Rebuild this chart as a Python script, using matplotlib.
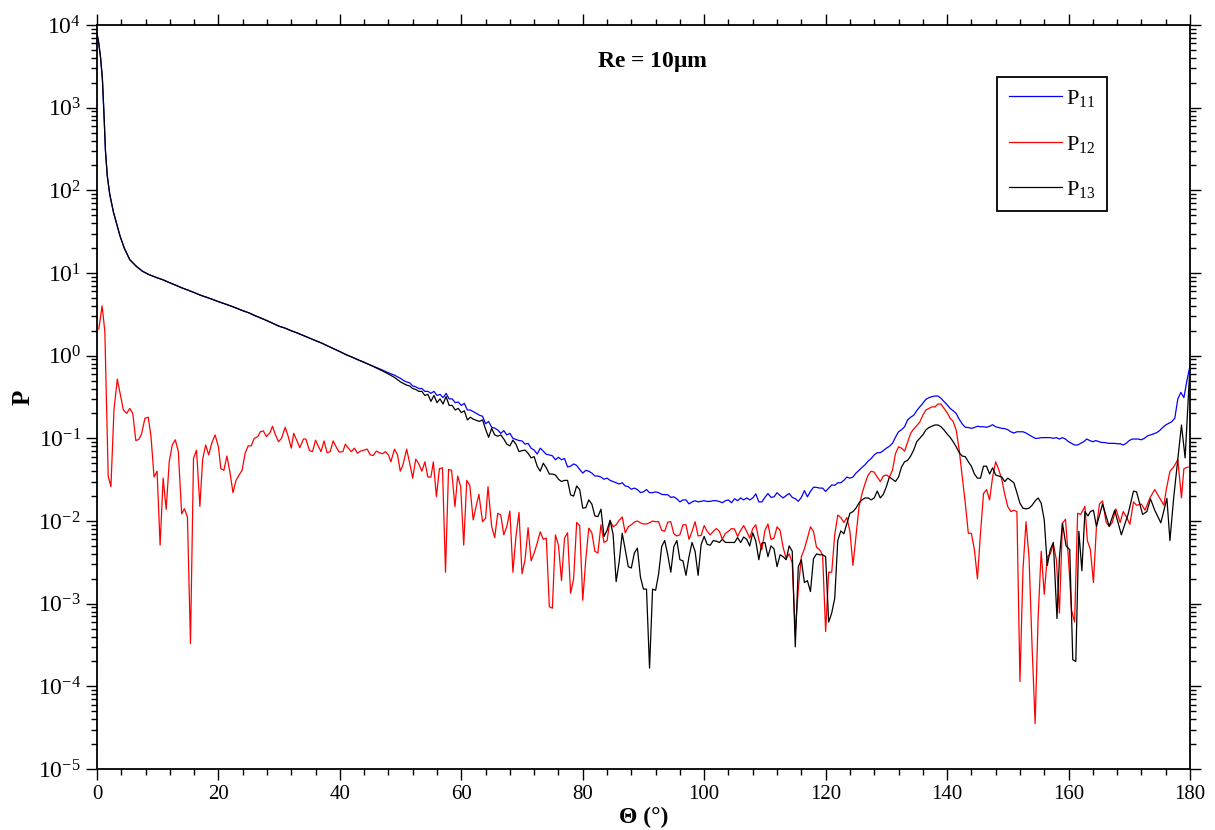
import numpy as np
import matplotlib
matplotlib.use('Agg')
import matplotlib.pyplot as plt
from matplotlib.ticker import MultipleLocator, LogLocator, NullFormatter, FixedLocator

plt.rcParams['font.family'] = ['Liberation Serif', 'DejaVu Serif']
plt.rcParams['mathtext.fontset'] = 'custom'
plt.rcParams['mathtext.rm'] = 'Liberation Serif'
plt.rcParams['mathtext.it'] = 'Liberation Serif:italic'
plt.rcParams['mathtext.bf'] = 'Liberation Serif:bold'

# ---- P11 (blue) ----
th11 = [0, 0.3, 0.6, 0.9, 1.2, 1.4, 1.7, 2.1, 2.7, 3.3, 3.8, 4.5, 5.4, 6.5, 7.5, 8.5,
        10, 11, 12, 13, 14, 15, 16, 17, 18, 19, 20, 21, 22, 23, 24, 25, 26, 27, 28, 29,
        30, 31, 32, 33, 34, 35, 36, 37, 38, 39, 40, 41, 42, 43, 44, 45, 46, 47, 48, 49, 50,
        50.5, 51, 51.5, 52, 52.5, 53, 53.5, 54, 54.5, 55, 55.5, 56, 56.5, 57, 57.5, 58, 58.5,
        59, 59.5, 60, 60.5, 61, 61.5, 62, 62.5, 63, 63.5, 64, 64.5, 65, 65.5, 66, 66.5, 67,
        67.5, 68, 68.5, 69, 69.5, 70, 70.5, 71, 71.5, 72, 72.5, 73, 73.5, 74, 74.5, 75, 75.5,
        76, 76.5, 77, 77.5, 78, 78.5, 79, 79.5, 80, 80.5, 81, 81.5, 82, 82.5, 83, 83.5, 84,
        84.5, 85, 85.5, 86, 86.5, 87, 87.5, 88, 88.5, 89, 89.5, 90, 90.5, 91, 91.5, 92, 92.5,
        93, 93.5, 94, 94.5, 95, 95.5, 96, 96.5, 97, 97.5, 98, 98.5, 99, 99.5, 100, 100.5, 101,
        101.5, 102, 102.5, 103, 103.5, 104, 104.5, 105, 105.5, 106, 106.5, 107, 107.5, 108,
        108.5, 109, 109.5, 110, 110.5, 111, 111.5, 112, 112.5, 113, 113.5, 114, 114.5, 115,
        115.5, 116, 116.5, 117, 117.5, 118, 118.5, 119, 119.5, 120, 120.5, 121, 121.5, 122,
        122.5, 123, 123.5, 124, 124.5, 125, 125.5, 126, 126.5, 127, 127.5, 128, 128.5, 129,
        129.5, 130, 130.5, 131, 131.5, 132, 132.5, 133, 133.5, 134, 134.5, 135, 135.5, 136,
        136.5, 137, 137.5, 138, 138.5, 139, 139.5, 140, 140.5, 141, 141.5, 142, 142.5, 143,
        143.5, 144, 144.5, 145, 145.5, 146, 146.5, 147, 147.5, 148, 148.5, 149, 149.5, 150,
        150.5, 151, 151.5, 152, 152.5, 153, 153.5, 154, 154.5, 155, 155.5, 156, 156.5, 157,
        157.5, 158, 158.5, 159, 159.5, 160, 160.5, 161, 161.5, 162, 162.5, 163, 163.5, 164,
        164.5, 165, 165.5, 166, 166.5, 167, 167.5, 168, 168.5, 169, 169.5, 170, 170.5, 171,
        171.5, 172, 172.5, 173, 173.5, 174, 174.5, 175, 175.5, 176, 176.5, 177, 177.5, 178,
        178.5, 179, 179.5, 180]
p11 = [8000, 6000, 4000, 2200, 700, 300, 150, 90, 55, 38, 28, 20, 14.5, 12, 10.5, 9.6,
       8.7, 8.2, 7.6, 7.1, 6.6, 6.2, 5.8, 5.4, 5.1, 4.8, 4.5, 4.25, 4.0, 3.75, 3.5, 3.3, 3.05,
       2.85, 2.65, 2.45, 2.27, 2.15, 2.0, 1.88, 1.75, 1.63, 1.52, 1.42, 1.31, 1.21, 1.12, 1.03,
       0.96, 0.89, 0.83, 0.77, 0.72, 0.67, 0.62, 0.58, 0.53,
       0.50, 0.48, 0.47, 0.43, 0.42, 0.40, 0.40, 0.37, 0.37, 0.35, 0.37, 0.33, 0.34, 0.31,
       0.35, 0.30, 0.30, 0.27, 0.275, 0.25, 0.265, 0.22, 0.22, 0.21, 0.20, 0.19, 0.185, 0.15,
       0.16, 0.136, 0.133, 0.126, 0.115, 0.124, 0.11, 0.115, 0.10, 0.097, 0.094, 0.093, 0.085,
       0.087, 0.076, 0.072, 0.0645, 0.076, 0.07, 0.064, 0.063, 0.0615, 0.055, 0.059, 0.055,
       0.057, 0.045, 0.046, 0.049, 0.047, 0.042, 0.038, 0.041, 0.040, 0.038, 0.035, 0.035,
       0.034, 0.032, 0.033, 0.031, 0.030, 0.029, 0.028, 0.029, 0.0265, 0.026, 0.0242, 0.025,
       0.024, 0.0221, 0.0225, 0.024, 0.022, 0.022, 0.0225, 0.022, 0.021, 0.0208, 0.0208,
       0.0193, 0.0196, 0.0185, 0.017, 0.018, 0.018, 0.0161, 0.017, 0.0176, 0.017, 0.0173,
       0.0176, 0.0172, 0.0173, 0.0176, 0.0176, 0.0172, 0.0166, 0.0176, 0.018, 0.0166, 0.0186,
       0.0176, 0.019, 0.018, 0.019, 0.018, 0.019, 0.0213, 0.017, 0.017, 0.0193, 0.0215, 0.0193,
       0.0196, 0.022, 0.0203, 0.019, 0.0203, 0.0215, 0.0193, 0.0186, 0.0173, 0.0193, 0.0233,
       0.0196, 0.0228, 0.0256, 0.0255, 0.025, 0.025, 0.0228, 0.025, 0.0273, 0.027, 0.029,
       0.029, 0.031, 0.034, 0.033, 0.034, 0.038, 0.041, 0.0445, 0.048, 0.053, 0.057, 0.063,
       0.067, 0.067, 0.071, 0.076, 0.08, 0.087, 0.103, 0.12, 0.127, 0.138, 0.167, 0.18, 0.19,
       0.216, 0.24, 0.265, 0.296, 0.31, 0.319, 0.325, 0.325, 0.305, 0.278, 0.255, 0.23, 0.216,
       0.2, 0.17, 0.149, 0.136, 0.135, 0.132, 0.135, 0.14, 0.138, 0.138, 0.136, 0.14, 0.146,
       0.138, 0.135, 0.132, 0.131, 0.127, 0.12, 0.116, 0.12, 0.12, 0.12, 0.116, 0.11, 0.105,
       0.1, 0.1, 0.102, 0.102, 0.102, 0.102, 0.1, 0.102, 0.098, 0.102, 0.098, 0.091, 0.087,
       0.083, 0.083, 0.087, 0.091, 0.098, 0.094, 0.091, 0.094, 0.091, 0.089, 0.089, 0.087,
       0.087, 0.087, 0.086, 0.086, 0.083, 0.087, 0.094, 0.098, 0.098, 0.098, 0.096, 0.1,
       0.107, 0.11, 0.113, 0.117, 0.124, 0.135, 0.145, 0.152, 0.159, 0.175, 0.3, 0.36, 0.31,
       0.5, 0.75]

# ---- P12 (red) ----
th12 = [0.3, 0.85, 1.3, 1.85, 2.3, 2.8, 3.35, 4.35, 4.9, 5.4, 5.9, 6.4, 6.9, 7.35, 7.9,
        8.45, 8.9, 9.4, 9.9, 10.4, 10.9, 11.4, 11.9, 12.4, 12.9, 13.4, 13.95, 14.4, 14.9,
        15.4, 15.9, 16.4, 16.95, 17.4, 17.9, 18.4, 18.9, 19.45, 20.0, 20.4, 20.9, 21.4, 21.9,
        22.4, 22.9, 23.4, 23.9, 24.4, 24.9, 25.4, 25.9, 26.5, 26.9, 27.4, 27.9, 28.5, 28.9,
        29.4, 29.9, 30.4, 31.0, 31.5, 32.0, 32.4, 33.0, 33.4, 34.0, 34.4, 35.0, 35.5, 36.0,
        36.5, 36.9, 37.4, 37.9, 38.4, 38.9, 39.5, 39.9, 40.5, 40.9, 41.4, 41.9, 42.4, 42.9,
        43.4, 44.0, 44.5, 45.0, 45.5, 46.0, 46.5, 47.0, 47.5, 48.0, 48.4, 49.0, 49.5, 49.95,
        50.4, 51.0, 51.5, 52.0, 52.5, 53.0, 53.5, 54.0, 54.5, 55.0, 55.4, 55.9, 56.4, 56.9,
        57.4, 57.9, 58.4, 58.96, 59.4, 59.9, 60.4, 60.9, 61.4, 61.96, 62.4, 62.9, 63.5, 64.0,
        64.4, 65.0, 65.5, 66.0, 66.5, 67.0, 67.5, 68.0, 68.5, 69.0, 69.5, 70.0, 70.5, 71.0,
        71.5, 72.0, 72.5, 73.0, 73.5, 74.0, 74.5, 75.0, 75.5, 76.0, 76.5, 77.0, 77.5, 78.0,
        78.5, 79.0, 79.5, 80.0, 80.5, 81.0, 81.5, 82.0, 82.5, 83.0, 83.5, 84.0, 84.5, 85.0,
        85.5, 86.0, 86.5, 87.0, 87.5, 88.0, 88.5, 89.0, 89.5, 90.0, 90.5, 91.0, 91.5, 92.0,
        92.5, 93.0, 93.5, 94.0, 94.5, 95.0, 95.5, 96.0, 96.5, 97.0, 97.5, 98.0, 98.5, 99.0,
        99.5, 100.0, 100.5, 101.0, 101.5, 102.0, 102.5, 103.0, 103.5, 104.0, 104.5, 105.0,
        105.5, 106.0, 106.5, 107.0, 107.5, 108.0, 108.5, 109.0, 109.5, 110.0, 110.5, 111.0,
        111.5, 112.0, 112.5, 113.0, 113.5, 114.0, 114.5, 115.0, 115.5, 116.0, 116.5, 117.0,
        117.5, 118.0, 118.5, 119.0, 119.5, 120.0, 120.5, 121.0, 121.5, 122.0, 122.5, 123.0,
        123.5, 124.0, 124.5, 125.0, 125.5, 126.0, 126.5, 127.0, 127.5, 128.0, 128.5, 129.0,
        129.5, 130.0, 130.5, 131.0, 131.5, 132.0, 132.5, 133.0, 133.5, 134.0, 134.5, 135.0,
        135.5, 136.0, 136.5, 137.0, 137.5, 138.0, 138.5, 139.0, 139.5, 140.0, 140.5, 141.0,
        141.5, 142.0, 142.5, 143.0, 143.5, 144.0, 144.5, 145.0, 145.5, 146.0, 146.5, 147.0,
        147.5, 148.0, 148.5, 149.0, 149.5, 150.0, 150.5, 151.0, 151.5, 152.0, 152.5, 153.0,
        153.5, 154.0, 154.5, 155.0, 155.5, 156.0, 156.5, 157.0, 157.5, 158.0, 158.5, 159.0,
        159.5, 160.0, 160.5, 161.0, 161.5, 162.0, 162.7, 163.1, 163.6, 164.1, 164.6, 165.1,
        165.6, 166.2, 166.7, 167.2, 167.8, 168.5, 169.0, 169.6, 170.1, 170.7, 171.2, 172.0,
        172.6, 173.4, 174.2, 175.0, 175.7, 176.1, 176.7, 177.3, 178.0, 178.6, 179.0, 179.7]
p12 = [2.1, 4.0, 1.95, 0.035, 0.026, 0.22, 0.52, 0.22, 0.20, 0.23, 0.20, 0.094, 0.097,
       0.113, 0.175, 0.18, 0.105, 0.034, 0.040, 0.0051, 0.033, 0.0138, 0.052, 0.083, 0.096,
       0.069, 0.0122, 0.0141, 0.0112, 0.00033, 0.057, 0.072, 0.015, 0.055, 0.083, 0.063,
       0.087, 0.11, 0.079, 0.043, 0.041, 0.061, 0.039, 0.022, 0.031, 0.036, 0.041, 0.066,
       0.081, 0.081, 0.10, 0.105, 0.12, 0.123, 0.105, 0.117, 0.14, 0.11, 0.091, 0.10, 0.136,
       0.105, 0.076, 0.115, 0.091, 0.077, 0.098, 0.098, 0.071, 0.069, 0.095, 0.079, 0.069,
       0.093, 0.067, 0.069, 0.093, 0.076, 0.068, 0.069, 0.085, 0.076, 0.069, 0.076, 0.066,
       0.070, 0.072, 0.074, 0.063, 0.062, 0.070, 0.067, 0.065, 0.069, 0.063, 0.052, 0.074,
       0.063, 0.040, 0.048, 0.074, 0.050, 0.033, 0.056, 0.049, 0.040, 0.052, 0.034, 0.034,
       0.052, 0.0197, 0.043, 0.044, 0.0024, 0.042, 0.041, 0.0149, 0.035, 0.026, 0.0051,
       0.031, 0.027, 0.0103, 0.0146, 0.021, 0.0098, 0.0108, 0.026, 0.0086, 0.0063, 0.0124,
       0.0118, 0.0068, 0.0086, 0.0132, 0.0024, 0.0065, 0.0127, 0.0023, 0.0034, 0.0083,
       0.0033, 0.0041, 0.0054, 0.0074, 0.006, 0.0062, 0.00092, 0.00088, 0.0068, 0.0051,
       0.0019, 0.0062, 0.0072, 0.00134, 0.0020, 0.0096, 0.0088, 0.0011, 0.0034, 0.0082,
       0.0072, 0.0043, 0.0041, 0.0090, 0.0055, 0.0058, 0.0101, 0.0085, 0.0090, 0.0102,
       0.0112, 0.0072, 0.0085, 0.009, 0.0097, 0.01, 0.0095, 0.0092, 0.0092, 0.0095, 0.0100,
       0.0098, 0.0098, 0.0077, 0.0075, 0.0097, 0.0098, 0.0070, 0.0066, 0.0068, 0.009, 0.009,
       0.006, 0.0075, 0.0098, 0.0066, 0.0067, 0.0088, 0.0075, 0.0068, 0.0075, 0.0081,
       0.0075, 0.006, 0.0071, 0.0075, 0.0081, 0.008, 0.0065, 0.0077, 0.0088, 0.0075, 0.0062,
       0.0081, 0.009, 0.0059, 0.0045, 0.0077, 0.0092, 0.006, 0.0062, 0.0085, 0.0077, 0.0048,
       0.0035, 0.004, 0.0031, 0.00044, 0.0015, 0.0037, 0.0046, 0.0062, 0.0085, 0.0075,
       0.0048, 0.0045, 0.0039, 0.00046, 0.0024, 0.0024, 0.0068, 0.0118, 0.011, 0.0096,
       0.011, 0.0075, 0.0029, 0.0065, 0.0149, 0.0215, 0.0285, 0.036, 0.040, 0.039, 0.034,
       0.030, 0.035, 0.036, 0.034, 0.041, 0.065, 0.079, 0.076, 0.07, 0.09, 0.115, 0.13,
       0.142, 0.157, 0.19, 0.22, 0.23, 0.24, 0.24, 0.26, 0.26, 0.23, 0.205, 0.175, 0.16,
       0.126, 0.072, 0.034, 0.0164, 0.0071, 0.0071, 0.0045, 0.0020, 0.0071, 0.0215, 0.024,
       0.018, 0.034, 0.052, 0.042, 0.032, 0.021, 0.0149, 0.013, 0.0135, 0.013, 0.000114,
       0.0026, 0.0098, 0.0036, 0.0003, 0.0000355, 0.0007, 0.0043, 0.0013, 0.0037, 0.004,
       0.0052, 0.0034, 0.00077, 0.0094, 0.0105, 0.0034, 0.00083, 0.0006, 0.0124, 0.012,
       0.015, 0.0058, 0.0045, 0.0018, 0.0086, 0.016, 0.0175, 0.0096, 0.0086, 0.0096, 0.014,
       0.0096, 0.013, 0.011, 0.0091, 0.017, 0.0155, 0.016, 0.0135, 0.019, 0.024, 0.019,
       0.0155, 0.024, 0.040, 0.045, 0.055, 0.019, 0.043, 0.045]

# ---- P13 (black) ----
th13 = [0, 0.3, 0.6, 0.9, 1.2, 1.4, 1.7, 2.1, 2.7, 3.3, 3.8, 4.5, 5.4, 6.5, 7.5, 8.5,
        10, 11, 12, 13, 14, 15, 16, 17, 18, 19, 20, 21, 22, 23, 24, 25, 26, 27, 28, 29,
        30, 31, 32, 33, 34, 35, 36, 37, 38, 39, 40, 41, 42, 43, 44, 45, 46, 47, 48, 49, 50,
        50.5, 51, 51.5, 52, 52.5, 53, 53.5, 54, 54.5, 55, 55.5, 56, 56.5, 57, 57.5, 58, 58.5,
        59, 59.5, 60, 60.5, 61, 61.5, 62, 62.5, 63, 63.5, 64, 64.5, 65, 65.5, 66, 66.5, 67,
        67.5, 68, 68.5, 69, 69.5, 70, 70.5, 71, 71.5, 72, 72.5, 73, 73.5, 74, 74.5, 75, 75.5,
        76, 76.5, 77, 77.5, 78, 78.5, 79, 79.5, 80, 80.5, 81, 81.5, 82, 82.5, 83, 83.5, 84,
        84.5, 85, 85.5, 86, 86.5, 87, 87.5, 88, 88.5, 89, 89.5, 90, 90.5, 91, 91.5, 92, 92.5,
        93, 93.5, 94, 94.5, 95, 95.5, 96, 96.5, 97, 97.5, 98, 98.5, 99, 99.5, 100, 100.5, 101,
        101.5, 102, 102.5, 103, 103.5, 104, 104.5, 105, 105.5, 106, 106.5, 107, 107.5, 108,
        108.5, 109, 109.5, 110, 110.5, 111, 111.5, 112, 112.5, 113, 113.5, 114, 114.5, 115,
        115.5, 116, 116.5, 117, 117.5, 118, 118.5, 119, 119.5, 120, 120.5, 121, 121.5, 122,
        122.5, 123, 123.5, 124, 124.5, 125, 125.5, 126, 126.5, 127, 127.5, 128, 128.5, 129,
        129.5, 130, 130.5, 131, 131.5, 132, 132.5, 133, 133.5, 134, 134.5, 135, 135.5, 136,
        136.5, 137, 137.5, 138, 138.5, 139, 139.5, 140, 140.5, 141, 141.5, 142, 142.5, 143,
        143.5, 144, 144.5, 145, 145.5, 146, 146.5, 147, 147.5, 148, 148.5, 149, 149.5, 150,
        150.5, 151, 151.5, 152, 152.5, 153, 153.5, 154, 154.5, 155, 155.5, 156, 156.5, 157,
        157.5, 158.1, 158.5, 159, 159.6, 160.2, 160.7, 161.2, 161.7, 162.2, 162.7, 163.2,
        163.6, 164.1, 164.6, 165.6, 166.7, 167.6, 168.7, 169.8, 170.7, 171.2, 172.2, 172.9,
        173.5, 174.2, 175.2, 176.2, 176.7, 177.3, 177.9, 178.6, 179.2, 180]
p13 = [8000, 6000, 4000, 2200, 700, 300, 150, 90, 55, 38, 28, 20, 14.5, 12, 10.5, 9.6,
       8.7, 8.2, 7.6, 7.1, 6.6, 6.2, 5.8, 5.4, 5.1, 4.8, 4.5, 4.25, 4.0, 3.75, 3.5, 3.3, 3.05,
       2.85, 2.65, 2.45, 2.27, 2.15, 2.0, 1.88, 1.75, 1.63, 1.52, 1.42, 1.31, 1.21, 1.12, 1.03,
       0.96, 0.89, 0.83, 0.77, 0.71, 0.655, 0.60, 0.545, 0.48,
       0.46, 0.44, 0.43, 0.40, 0.39, 0.37, 0.37, 0.33, 0.34, 0.28, 0.33, 0.27, 0.30, 0.26,
       0.32, 0.25, 0.25, 0.22, 0.23, 0.205, 0.215, 0.167, 0.18, 0.17, 0.165, 0.16, 0.167,
       0.129, 0.103, 0.132, 0.11, 0.106, 0.11, 0.098, 0.085, 0.081, 0.095, 0.085, 0.069,
       0.071, 0.072, 0.066, 0.058, 0.06, 0.046, 0.040, 0.050, 0.044, 0.037, 0.037, 0.036,
       0.032, 0.030, 0.031, 0.031, 0.0207, 0.020, 0.0265, 0.024, 0.0143, 0.0145, 0.018,
       0.016, 0.0115, 0.0113, 0.0139, 0.0065, 0.0077, 0.0102, 0.0069, 0.00185, 0.0032,
       0.0071, 0.0045, 0.0028, 0.0027, 0.0041, 0.0047, 0.0021, 0.0015, 0.0015, 0.000166,
       0.0015, 0.00145, 0.0023, 0.0049, 0.0058, 0.0039, 0.0024, 0.0049, 0.0058, 0.0034,
       0.0033, 0.0022, 0.0037, 0.0055, 0.0043, 0.0022, 0.0052, 0.0065, 0.0052, 0.0051,
       0.0058, 0.0057, 0.0055, 0.006, 0.0055, 0.0055, 0.0055, 0.0055, 0.0063, 0.0055,
       0.0064, 0.006, 0.005, 0.0072, 0.0057, 0.0034, 0.0054, 0.0055, 0.0037, 0.005, 0.0046,
       0.0028, 0.0039, 0.0037, 0.0034, 0.005, 0.0043, 0.0003, 0.0028, 0.0034, 0.0018,
       0.0019, 0.0014, 0.0035, 0.004, 0.0039, 0.0039, 0.0037, 0.0006, 0.00077, 0.00116,
       0.0058, 0.0076, 0.007, 0.0093, 0.0124, 0.013, 0.0143, 0.0166, 0.018, 0.019, 0.019,
       0.018, 0.019, 0.023, 0.019, 0.021, 0.026, 0.034, 0.032, 0.030, 0.034, 0.045, 0.052,
       0.054, 0.061, 0.072, 0.091, 0.1, 0.11, 0.126, 0.135, 0.14, 0.145, 0.145, 0.138,
       0.126, 0.113, 0.103, 0.091, 0.079, 0.067, 0.061, 0.06, 0.052, 0.046, 0.037, 0.033,
       0.033, 0.046, 0.046, 0.037, 0.044, 0.036, 0.035, 0.034, 0.030, 0.033, 0.031, 0.029,
       0.022, 0.0164, 0.0143, 0.014, 0.0143, 0.0155, 0.0175, 0.019, 0.0164, 0.0103, 0.0029,
       0.0045, 0.0055, 0.00066, 0.0036, 0.0094, 0.005, 0.0045, 0.00021, 0.0002, 0.0075,
       0.0025, 0.013, 0.0115, 0.013, 0.0135, 0.0086, 0.016, 0.0086, 0.0135, 0.0068, 0.012,
       0.023, 0.0225, 0.012, 0.013, 0.0185, 0.0135, 0.0095, 0.0188, 0.0058, 0.0185, 0.048,
       0.145, 0.058, 0.75]

fig = plt.figure(figsize=(12.15, 8.3), dpi=100)
ax = fig.add_axes([0.0798, 0.0735, 0.8996, 0.8964])

ax.plot(th11, p11, color='#0000ff', lw=0.9, label='P$_{11}$')
ax.plot(th12, p12, color='#ff0000', lw=0.9, label='P$_{12}$')
ax.plot(th13, p13, color='black', lw=0.9, label='P$_{13}$')

ax.set_yscale('log')
ax.set_xlim(0, 180)
ax.set_ylim(1e-5, 1e4)

ax.xaxis.set_major_locator(MultipleLocator(20))
ax.xaxis.set_minor_locator(MultipleLocator(4))
ax.yaxis.set_major_locator(FixedLocator([10.0 ** k for k in range(-5, 5)]))
ax.yaxis.set_minor_locator(LogLocator(base=10, subs=np.arange(2, 10), numticks=20))
ax.yaxis.set_minor_formatter(NullFormatter())
ax.set_yticklabels([r'$10^{%d}$' % k for k in range(-5, 5)])

ax.tick_params(which='both', direction='out', top=True, right=True,
               labeltop=False, labelright=False, width=1.0)
ax.tick_params(which='major', length=8)
ax.tick_params(which='minor', length=4.5)
ax.tick_params(axis='x', which='major', labelsize=15)
ax.tick_params(axis='y', which='major', labelsize=17)
for s in ax.spines.values():
    s.set_linewidth(1.3)

ax.set_xlabel('Θ (°)', fontsize=17, fontweight='bold', labelpad=2)
ax.set_ylabel('P', fontsize=18, fontweight='bold')
ax.yaxis.set_label_coords(-0.057, 0.5)

ax.text(0.508, 0.95, r'Re = 10$\mathbf{\mu}$m', transform=ax.transAxes,
        ha='center', va='center', fontsize=17, fontweight='bold')

leg = ax.legend(loc='upper right', bbox_to_anchor=(0.924, 0.930), borderaxespad=0,
                fontsize=16, handlelength=2.4, labelspacing=1.1, fancybox=False,
                framealpha=1, edgecolor='black', borderpad=0.5, handletextpad=0.2)
leg.get_frame().set_linewidth(1.3)

fig.savefig('out.png', dpi=100)
